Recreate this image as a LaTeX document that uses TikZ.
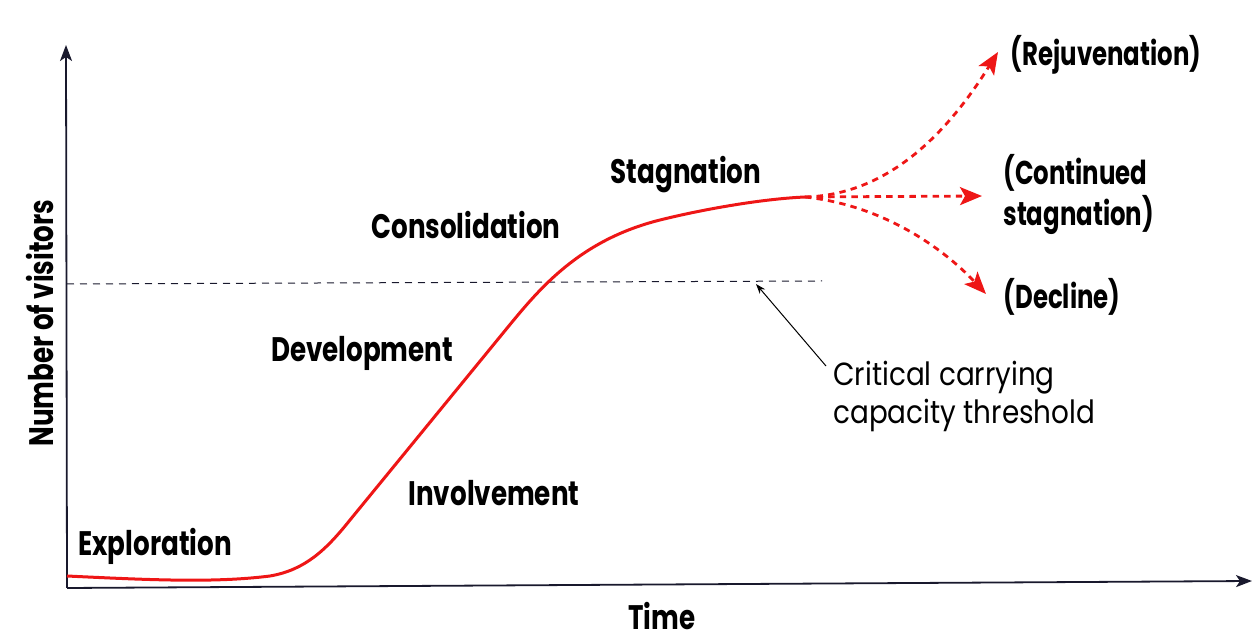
\documentclass[tikz,border=0pt]{standalone}
\usepackage{fontspec}
\setmainfont{Poppins}
\newfontfamily\labfont[FakeStretch=0.77]{Poppins}
\newfontfamily\outfont[FakeStretch=0.74]{Poppins}
\newfontfamily\notefont[FakeStretch=0.87]{Poppins}
\usetikzlibrary{arrows.meta}
\definecolor{curvered}{RGB}{238,22,22}
\definecolor{axisink}{RGB}{25,25,45}
\tikzset{
  stage/.style={font=\labfont\bfseries\fontsize{17}{19}\selectfont, inner sep=0pt},
  outcome/.style={font=\outfont\bfseries\fontsize{16.5}{20.5}\selectfont, inner sep=0pt, align=left},
  note/.style={font=\notefont\fontsize{16}{19}\selectfont, inner sep=0pt, align=left},
  axislabel/.style={font=\labfont\bfseries\fontsize{17}{19}\selectfont, inner sep=0pt},
  axisline/.style={draw=axisink, line width=0.9pt, -{Stealth[length=8pt,width=6pt,inset=2pt]}},
  lifecurve/.style={draw=curvered, line width=1.5pt},
  branch/.style={draw=curvered, line width=1.4pt, dash pattern=on 3.2pt off 2.6pt, -{Stealth[length=11pt,width=9pt,inset=2.5pt]}},
  threshold/.style={draw=axisink, line width=0.5pt, dash pattern=on 3.5pt off 3pt},
  pointer/.style={draw=black, line width=0.5pt, -{Stealth[length=5pt,width=3.5pt]}}
}
\begin{document}
\begin{tikzpicture}[x=0.5pt,y=-0.5pt]
\useasboundingbox (0,0) rectangle (1255,641);
% axes
\coordinate (O) at (67,588);
\coordinate (ytop) at (66,45);
\coordinate (xend) at (1252,581);
\draw[axisline] (O) -- (ytop);
\draw[axisline] (O) -- (xend);
% threshold
\coordinate (th1) at (67,284);
\coordinate (th2) at (822,281);
\draw[threshold] (th1) -- (th2);
% curve
\coordinate (start) at (67,576);
\coordinate (peak) at (805,197);
\draw[lifecurve] (start) .. controls (150,580) and (215,583) .. (270,576)
  .. controls (305,570) and (326,550) .. (350,520)
  -- (508,327)
  .. controls (540,288) and (580,240) .. (660,220)
  .. controls (700,210) and (760,199) .. (peak);
% branches
\coordinate (rj) at (998,52);
\coordinate (cs) at (982,196);
\coordinate (dc) at (986,294);
\draw[branch] (peak) .. controls (880,195) and (940,145) .. (rj);
\draw[branch] (peak) -- (cs);
\draw[branch] (peak) .. controls (880,205) and (940,245) .. (dc);
% stage labels
\node[stage] (explo) at (155,546) {Exploration};
\node[stage] (invol) at (494,493) {Involvement};
\node[stage] (devel) at (362,353) {Development};
\node[stage] (conso) at (466,225) {Consolidation};
\node[stage] (stagn) at (686,175) {Stagnation};
% outcomes
\node[outcome] (rejuv) at (1106,55) {(Rejuvenation)};
\node[outcome, anchor=west] (contin) at (1003,194) {(Continued\\stagnation)};
\node[outcome] (decl) at (1062,297) {(Decline)};
% note
\node[note, anchor=west] (crit) at (833,396) {Critical carrying\\capacity threshold};
\coordinate (ptail) at (826,366);
\coordinate (ptip) at (756,284);
\draw[pointer] (ptail) -- (ptip);
% axis labels
\node[axislabel] (time) at (662,616) {Time};
\node[axislabel, rotate=90] (nvis) at (40,323) {Number of visitors};
\end{tikzpicture}
\end{document}
